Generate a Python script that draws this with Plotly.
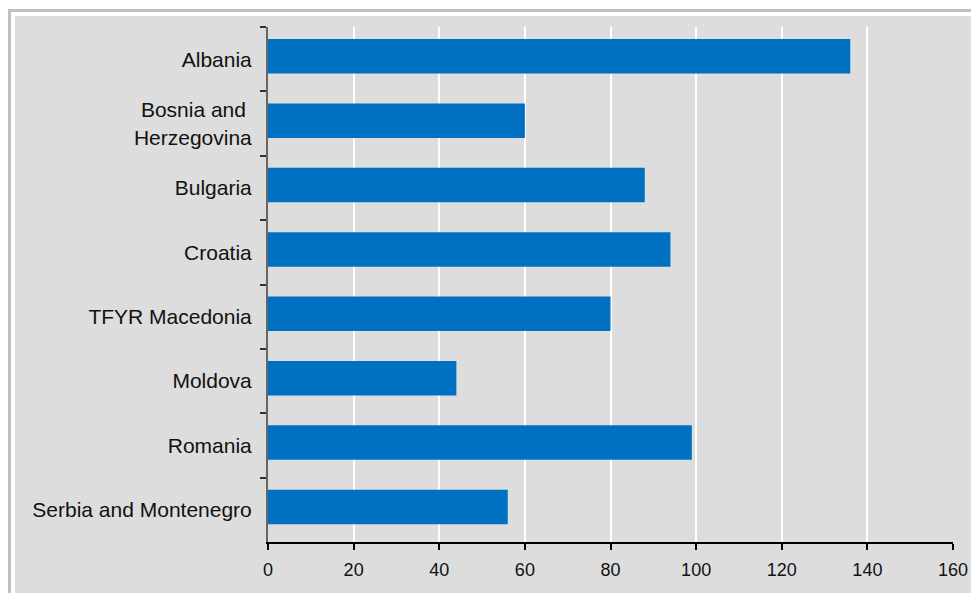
import plotly.graph_objects as go

countries = ["Albania", "Bosnia and\u00a0<br>Herzegovina", "Bulgaria", "Croatia",
             "TFYR Macedonia", "Moldova", "Romania", "Serbia and Montenegro"]
values = [136, 60, 88, 94, 80, 44, 99, 56]
x_ticks = [0, 20, 40, 60, 80, 100, 120, 140, 160]

# page has an 8px body margin; figure fills the rest of the window
W, H = 971, 585
L, R, T, B = 260, 26, 19, 51
pw, ph = W - L - R, H - T - B

def px_x(p):
    return (p - L) / pw

def px_y(p):
    return (H - B - p) / ph

bar_w = 0.535
fig = go.Figure(go.Bar(
    y=countries, x=values, orientation="h",
    marker=dict(color="#0070c3", line=dict(width=0)),
    width=bar_w, offset=-bar_w / 2 - 0.045,
    hoverinfo="x+y",
))

fig.update_layout(
    width=W, height=H,
    margin=dict(l=L, r=R, t=T, b=B, pad=0),
    paper_bgcolor="white",
    plot_bgcolor="#dddddd",
    showlegend=False,
    font=dict(family="Liberation Sans, Arial, sans-serif", color="#111111"),
    shapes=[
        dict(type="rect", xref="paper", yref="paper", layer="below",
             x0=px_x(1.5), x1=1.2, y0=-0.3, y1=px_y(2.5),
             fillcolor="white", line=dict(color="#c0c0c0", width=3)),
        dict(type="rect", xref="paper", yref="paper", layer="below",
             x0=px_x(7), x1=1.2, y0=-0.3, y1=px_y(8),
             fillcolor="#dddddd", line=dict(width=0)),
    ],
    xaxis=dict(
        range=[0, 160], tickvals=x_ticks, ticktext=[str(v) for v in x_ticks],
        showgrid=True, gridcolor="white", gridwidth=1.5,
        zeroline=False,
        showline=True, linecolor="black", linewidth=1.5,
        ticks="outside", ticklen=6, tickwidth=1.5, tickcolor="black",
        ticklabelstandoff=5,
        tickfont=dict(size=18, color="#111111"),
        fixedrange=True,
    ),
    yaxis=dict(
        type="category", categoryorder="array", categoryarray=countries,
        autorange="reversed",
        showgrid=False, zeroline=False,
        showline=True, linecolor="#666666", linewidth=2,
        ticks="outside", tickson="boundaries", ticklen=6, tickwidth=1.5,
        tickcolor="#333333",
        ticklabelstandoff=10,
        tickfont=dict(size=21, color="#111111"),
        fixedrange=True,
    ),
)

fig.write_html("out.html")
